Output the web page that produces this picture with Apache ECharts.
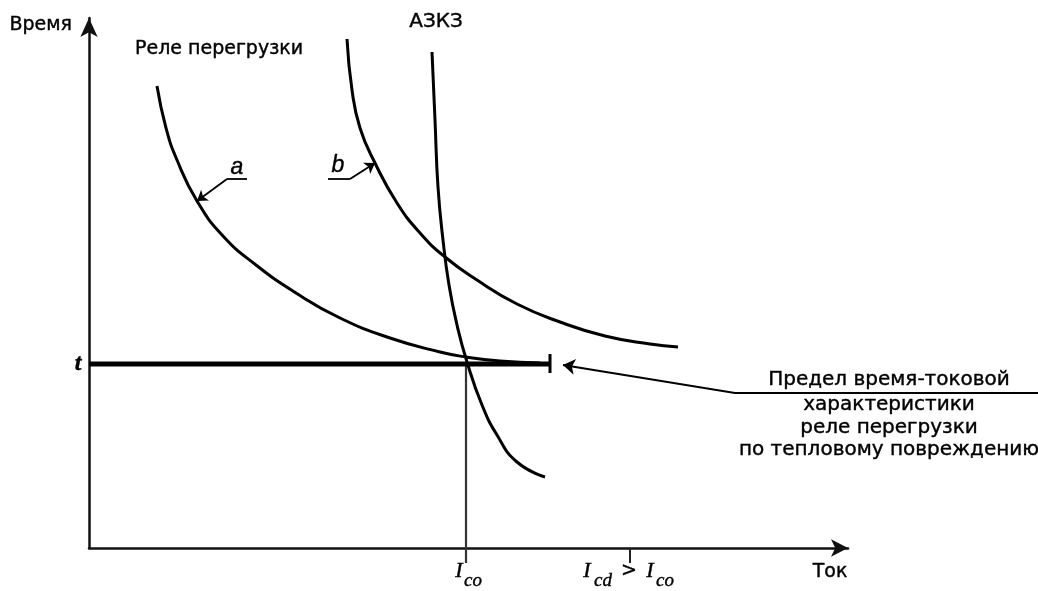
<!DOCTYPE html>
<html>
<head>
<meta charset="utf-8">
<script src="https://cdn.jsdelivr.net/npm/echarts@6/dist/echarts.min.js"></script>
<style>html,body{margin:0;padding:0;background:#fff;}#c{width:1038px;height:591px;}</style>
</head>
<body>
<div id="c"></div>
<script>
// Schematic values (abstract units: current on x, time on y)
const relayA = [[6.8,46.2],[7.7,42.0],[8.8,38.8],[10.8,34.7],[13.4,31.2],[16.7,28.3],[20.7,25.5],[25.1,23.0],[30.1,21.0],[35.1,19.6],[37.7,19.1],[41.1,18.7],[45.1,18.5]];
const relayB = [[25.8,50.9],[26.3,45.8],[27.1,42.0],[28.6,38.5],[30.8,34.5],[33.1,31.5],[35.6,29.1],[38.8,26.8],[42.8,24.4],[47.1,22.6],[51.6,21.2],[56.1,20.4],[58.9,20.1]];
const azkz = [[34.3,49.6],[34.6,42.8],[34.9,36.1],[35.4,30.8],[36.0,26.3],[36.8,22.3],[37.8,18.6],[39.3,14.3],[40.8,11.3],[42.8,8.6],[45.6,7.1]];
const tTime = 18.4;
const Ico = 37.7;
const Icd = 54.1;
const tLimitEnd = 46.1;
const pointerA = [[15.8,36.9],[13.8,36.9],[10.8,34.7]];
const pointerB = [[23.9,36.9],[26.1,36.9],[28.6,38.5]];
const limitPointer = [[94.9,15.5],[64.6,15.5],[47.4,18.3]];
const axisNames = ['Время', 'Ток'];
const curveNames = ['Реле перегрузки', 'АЗКЗ'];
const noteLines = ['Предел время-токовой', 'характеристики', 'реле перегрузки', 'по тепловому повреждению'];

const SANS = 'DejaVu Sans';
const SERIF = 'Liberation Serif';
const ink = '#000';

function lbl(x, y, text, extra) {
  return {
    value: [x, y],
    label: Object.assign({
      show: true, position: 'inside', formatter: text, opacity: 1,
      color: ink, fontFamily: SANS, fontSize: 19, align: 'center', verticalAlign: 'middle',
      textBorderColor: ink, textBorderWidth: 0.4
    }, extra || {})
  };
}
const mathStyle = { fontFamily: SERIF, fontStyle: 'italic', fontSize: 22 };
const subStyle = { fontFamily: SERIF, fontStyle: 'italic', fontSize: 19 };
const letterStyle = { fontFamily: 'Liberation Sans', fontStyle: 'italic', fontSize: 23 };

const labels = [
  lbl(-1.7, 52.3, axisNames[0], { align: 'right' }),
  lbl(74.1, -2.4, axisNames[1]),
  lbl(4.6, 49.9, curveNames[0], { align: 'left' }),
  lbl(34.7, 52.6, curveNames[1], { fontSize: 20 }),
  lbl(-1.1, tTime, 't', Object.assign({}, mathStyle, { fontWeight: 'bold', fontSize: 24 })),
  lbl(14.8, 38.0, 'a', letterStyle),
  lbl(24.9, 38.2, 'b', letterStyle),
  lbl(37.0, -2.3, 'I', mathStyle),
  lbl(38.4, -3.3, 'co', subStyle),
  lbl(49.8, -2.3, 'I', mathStyle),
  lbl(51.4, -3.3, 'cd', subStyle),
  lbl(54.0, -2.3, '>', { fontSize: 19 }),
  lbl(56.1, -2.3, 'I', mathStyle),
  lbl(57.6, -3.3, 'co', subStyle),
  lbl(80.0, 16.8, noteLines[0], { fontSize: 20 }),
  lbl(80.0, 14.3, noteLines[1], { fontSize: 20 }),
  lbl(80.0, 12.0, noteLines[2], { fontSize: 20 }),
  lbl(80.0, 9.8, noteLines[3], { fontSize: 20 })
];

function curve(data) {
  return {
    type: 'line', data: data, smooth: 0.5, symbol: 'none',
    clip: false, lineStyle: { color: ink, width: 3 }, z: 5
  };
}
function seg(data, width, color, z) {
  return {
    type: 'line', data: data, symbol: 'none', clip: false,
    lineStyle: { color: color || ink, width: width }, z: z || 3
  };
}
function arrow(coords, size, width, withHead) {
  return {
    type: 'lines', coordinateSystem: 'cartesian2d', clip: false,
    symbol: ['none', withHead ? 'arrow' : 'none'], symbolSize: size,
    lineStyle: { color: ink, width: width, opacity: 1 },
    itemStyle: { color: ink, opacity: 1 },
    data: [{ coords: coords }], z: 6
  };
}

const chart = echarts.init(document.getElementById('c'), null, { renderer: 'canvas' });
chart.setOption({
  animation: false,
  backgroundColor: '#fff',
  grid: { left: 89, right: 190, top: 18, bottom: 43 },
  xAxis: {
    type: 'value', min: 0, max: 75.9,
    axisLine: { show: true, onZero: false, symbol: ['none', 'arrow'], symbolSize: [13, 17], lineStyle: { color: '#111', width: 2.5 } },
    axisTick: { show: false }, axisLabel: { show: false }, splitLine: { show: false }
  },
  yAxis: {
    type: 'value', min: 0, max: 53,
    axisLine: { show: true, onZero: false, symbol: ['none', 'arrow'], symbolSize: [13, 19], lineStyle: { color: '#111', width: 2.5 } },
    axisTick: { show: false }, axisLabel: { show: false }, splitLine: { show: false }
  },
  series: [
    seg([[Ico, -1.5], [Ico, tTime]], 2.2, '#333', 2),
    seg([[Icd, 0], [Icd, -1.5]], 2, '#222', 2),
    seg([[0, tTime], [tLimitEnd, tTime]], 5, ink, 4),
    seg([[tLimitEnd, tTime + 1.0], [tLimitEnd, tTime - 0.9]], 3, ink, 4),
    curve(relayA),
    curve(relayB),
    curve(azkz),
    arrow(pointerA.slice(0, 2), 10, 1.8, false),
    arrow(pointerA.slice(1), 10, 1.8, true),
    arrow(pointerB.slice(0, 2), 10, 1.8, false),
    arrow(pointerB.slice(1), 10, 1.8, true),
    arrow(limitPointer.slice(0, 2), 12, 1.8, false),
    arrow(limitPointer.slice(1), 12, 1.8, true),
    {
      type: 'scatter', data: labels, symbolSize: 0, clip: false, silent: true, z: 10,
      itemStyle: { opacity: 1 }
    }
  ]
});
</script>
</body>
</html>
